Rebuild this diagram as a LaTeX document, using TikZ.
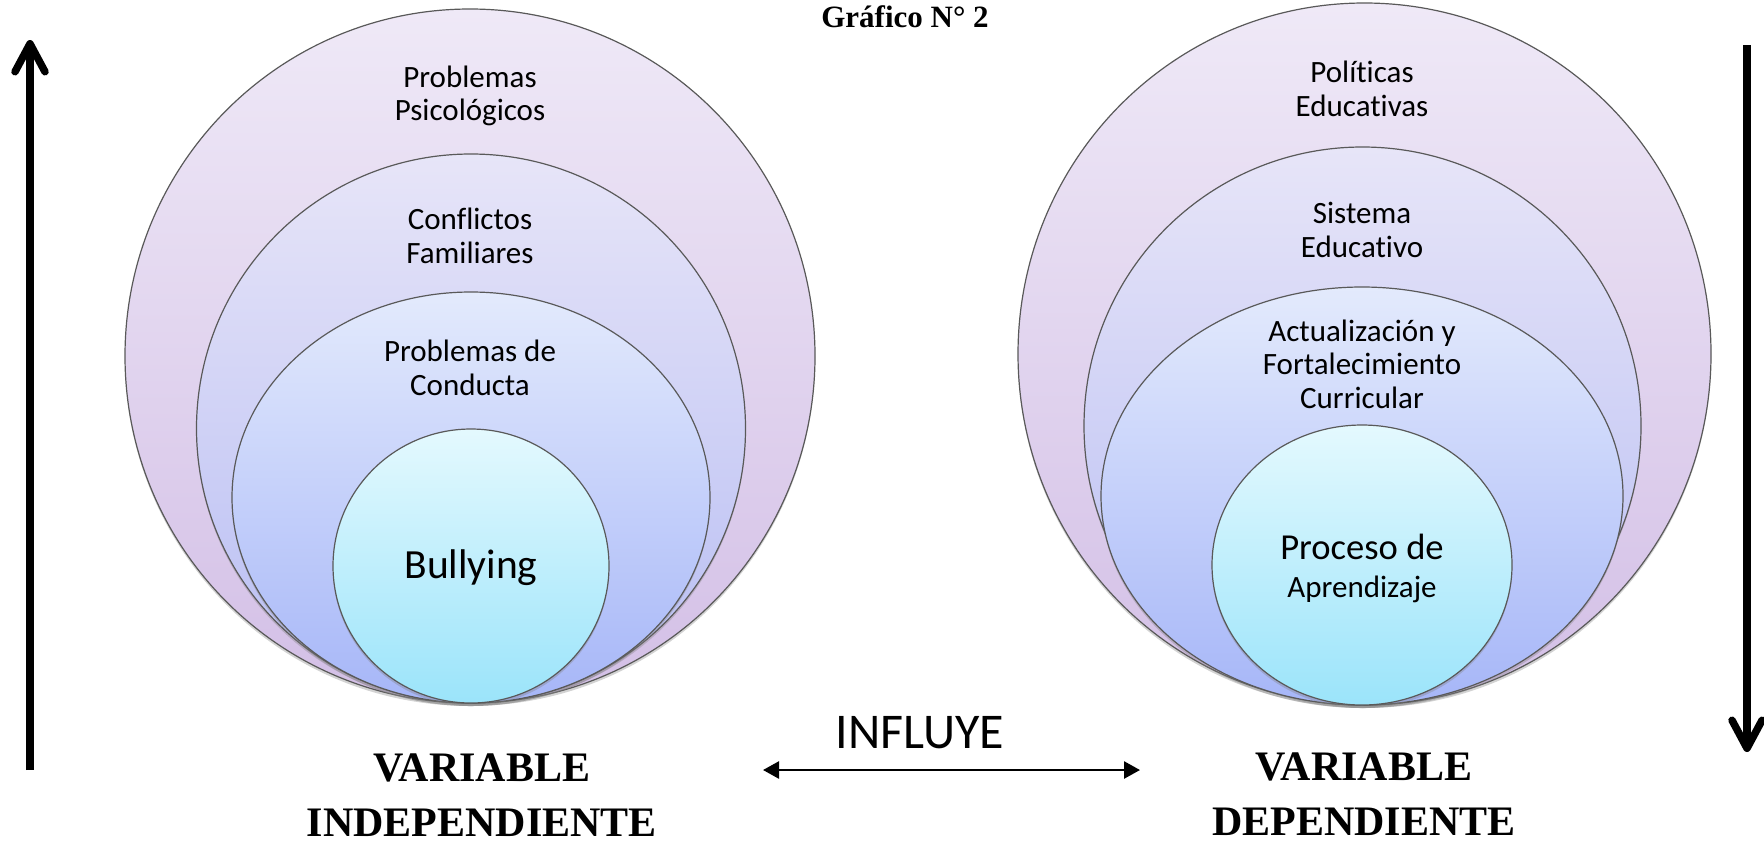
\documentclass[tikz,border=0pt]{standalone}
\usepackage{fontspec}
\setmainfont{Carlito}[Ligatures=NoCommon]
\newfontfamily\timesfont{Liberation Serif}
\usetikzlibrary{shapes.geometric, arrows.meta, shadows}
\definecolor{oat}{HTML}{EFE9F7}
\definecolor{oab}{HTML}{D3BFE6}
\definecolor{obt}{HTML}{E7E5F8}
\definecolor{obb}{HTML}{B7BDF3}
\definecolor{oct}{HTML}{E3EAFC}
\definecolor{ocb}{HTML}{A6B6F8}
\definecolor{odt}{HTML}{E4F9FE}
\definecolor{odb}{HTML}{9BE4FA}
\begin{document}
\begin{tikzpicture}[x=0.5pt, y=-0.5pt,
  ring/.style={ellipse, draw=black!65, line width=0.6pt, inner sep=0pt,
    drop shadow={shadow xshift=0pt, shadow yshift=-1.5pt, opacity=0.35}},
  ringA/.style={ring, top color=oat, bottom color=oab},
  ringB/.style={ring, top color=obt, bottom color=obb},
  ringC/.style={ring, top color=oct, bottom color=ocb},
  ringD/.style={ring, top color=odt, bottom color=odb},
  lbl/.style={align=center, inner sep=0pt, font=\fontsize{15.5pt}{16.75pt}\selectfont},
  varlbl/.style={align=center, inner sep=0pt, font=\timesfont\bfseries\fontsize{21pt}{27.5pt}\selectfont},
  bigarrow/.style={line width=3.75pt, -{Straight Barb[length=14pt, width=15pt, round]}},
  twoway/.style={line width=1.3pt, {Triangle[length=8pt, width=8.5pt]}-{Triangle[length=8pt, width=8.5pt]}}
]
\useasboundingbox (0,0) rectangle (1764,842);

% left group
\node[ringA, minimum width=345pt, minimum height=347pt] (L1) at (470,356) {};
\node[ringB, minimum width=274.5pt, minimum height=274.5pt] (L2) at (471,428.5) {};
\node[ringC, minimum width=239pt, minimum height=205.5pt] (L3) at (471,497.5) {};
\node[ringD, minimum width=138pt, minimum height=137pt] (L4) at (471,566) {};
\node[lbl] (tL1) at (470,96) {Problemas\\Psicológicos};
\node[lbl] (tL2) at (470,236) {Conflictos\\Familiares};
\node[lbl] (tL3) at (470,368) {Problemas de\\Conducta};
\node[inner sep=0pt, anchor=base, font=\fontsize{20.75pt}{24pt}\selectfont] (tL4) at (471,578) {Bullying};

% right group
\node[ringA, minimum width=346.5pt, minimum height=351pt] (R1) at (1364.5,354) {};
\node[ringB, minimum width=278.5pt, minimum height=279pt] (R2) at (1362.5,426) {};
\node[ringC, minimum width=261pt, minimum height=209pt] (R3) at (1362,496) {};
\node[ringD, minimum width=150pt, minimum height=140pt] (R4) at (1362,565) {};
\node[lbl] (tR1) at (1362,89) {Políticas\\Educativas};
\node[lbl] (tR2) at (1362,230) {Sistema\\Educativo};
\node[lbl] (tR3) at (1362,364) {Actualización y\\Fortalecimiento\\Curricular};
\node[align=center, inner sep=0pt, font=\fontsize{15.5pt}{19pt}\selectfont] (tR4) at (1362,568)
  {{\fontsize{18.3pt}{19pt}\selectfont Proceso de}\\Aprendizaje};

% title and captions
\node[inner sep=0pt, anchor=base, font=\timesfont\bfseries\fontsize{15.5pt}{18pt}\selectfont] (title) at (905,27) {Gráfico N° 2};
\node[inner sep=0pt, anchor=base, font=\fontsize{25pt}{30pt}\selectfont] (infl) at (920,748) {INFLUYE};
\node[varlbl] (vind) at (482,795) {VARIABLE\\INDEPENDIENTE};
\node[varlbl] (vdep) at (1364,794) {VARIABLE\\DEPENDIENTE};

% arrows
\coordinate (infL) at (763,770);
\coordinate (infR) at (1140,770);
\draw[twoway] (infL) -- (infR);
\coordinate (upB) at (30,770);
\coordinate (upT) at (30,40);
\draw[bigarrow] (upB) -- (upT);
\coordinate (dnT) at (1747,45);
\coordinate (dnB) at (1747,752);
\draw[bigarrow] (dnT) -- (dnB);
\end{tikzpicture}
\end{document}
